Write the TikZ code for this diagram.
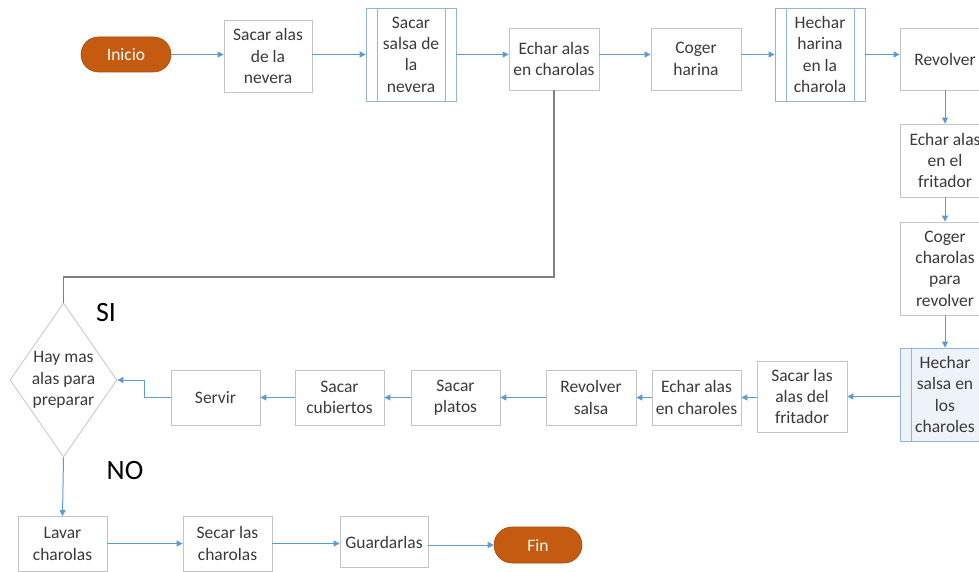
\documentclass[tikz,border=0pt]{standalone}
\usepackage{fontspec}
\setmainfont{Carlito}
\usetikzlibrary{arrows.meta,shapes.geometric}
\definecolor{flowblue}{HTML}{5B9BD5}
\definecolor{boxgray}{HTML}{C4C4C4}
\definecolor{procblue}{HTML}{95B3D7}
\definecolor{termorange}{HTML}{C55A11}
\definecolor{termedge}{HTML}{A34A0D}
\definecolor{txt}{HTML}{3A3A3A}
\definecolor{paleblue}{HTML}{EEF3FA}
\definecolor{loopgray}{HTML}{7F7F7F}
\begin{document}
\begin{tikzpicture}[x=1pt,y=-1pt,
  every node/.style={font=\fontsize{17.5}{21.3}\selectfont, text=txt, align=center},
  stepbox/.style={draw=boxgray, line width=0.8pt, fill=white, minimum width=89pt, inner sep=1pt},
  procbox/.style={draw=procblue, line width=0.8pt, fill=white, minimum width=90pt, minimum height=93pt, inner sep=1pt,
    path picture={\draw[procblue, line width=0.8pt]
      ([xshift=11pt]path picture bounding box.north west) -- ([xshift=11pt]path picture bounding box.south west)
      ([xshift=-11pt]path picture bounding box.north east) -- ([xshift=-11pt]path picture bounding box.south east);}},
  term/.style={draw=termedge, line width=0.6pt, fill=termorange, rounded corners=17.5pt, minimum width=90pt, minimum height=35pt, text=white},
  flow/.style={flowblue, line width=1pt, -{Triangle[length=6pt,width=6pt]}},
  loopline/.style={loopgray, line width=1.5pt},
  bigtext/.style={font=\fontsize{28}{28}\selectfont, text=black}
]
\useasboundingbox (0,0) rectangle (979,572);

% top row
\node[term] (ini) at (126,54.5) {Inicio};
\node[stepbox, minimum height=72pt, minimum width=88pt] (n1) at (268,56) {Sacar alas\\de la\\nevera};
\node[procbox] (n2) at (411,54.5) {Sacar\\salsa de\\la\\nevera};
\node[stepbox, minimum height=62pt, minimum width=90pt] (n3) at (554,59) {Echar alas\\en charolas};
\node[stepbox, minimum height=62pt, minimum width=90pt] (n4) at (696,59) {Coger\\harina};
\node[procbox] (n5) at (820,54.5) {Hechar\\harina\\en la\\charola};
\node[stepbox, minimum height=62pt, minimum width=90pt] (n6) at (945,59) {Revolver};

% right column
\node[stepbox, minimum height=73pt, minimum width=90pt] (n7) at (945,160.5) {Echar alas\\en el\\fritador};
\node[stepbox, minimum height=93pt, minimum width=90pt] (n8) at (945,268.5) {Coger\\charolas\\para\\revolver};
\node[procbox, fill=paleblue] (n9) at (945,394.5) {Hechar\\salsa en\\los\\charoles};

% middle row (right to left)
\node[stepbox, minimum height=71pt, minimum width=90pt] (n10) at (802,396.5) {Sacar las\\alas del\\fritador};
\node[stepbox, minimum height=55pt] (n11) at (696.5,397.5) {Echar alas\\en charoles};
\node[stepbox, minimum height=55pt, minimum width=90pt] (n12) at (591,397.5) {Revolver\\salsa};
\node[stepbox, minimum height=55pt] (n13) at (455.5,397.5) {Sacar\\platos};
\node[stepbox, minimum height=55pt] (n14) at (339.5,397.5) {Sacar\\cubiertos};
\node[stepbox, minimum height=55pt] (srv) at (215.5,397.5) {Servir};

% decision
\node[diamond, draw=boxgray!80!black!60, line width=0.8pt, minimum width=107pt, minimum height=154pt, inner sep=0pt] (dec) at (63.5,380) {};
\node (decT) at (63.5,380) {Hay mas\\alas para\\preparar};
\node[bigtext] (si) at (106,313) {SI};
\node[bigtext] (no) at (125,471) {NO};
\coordinate (siTurn) at (63.5,277);

% bottom row
\node[stepbox, minimum height=55pt] (lav) at (62.5,544) {Lavar\\charolas};
\node[stepbox, minimum height=55pt] (sec) at (227.5,543.5) {Secar las\\charolas};
\node[stepbox, minimum height=51pt, minimum width=88pt] (grd) at (384,542) {Guardarlas};
\node[term, minimum width=88pt, minimum height=36pt, rounded corners=18pt] (fin) at (538,545) {Fin};

% connectors
\draw[flow] (ini.east) -- (ini.east -| n1.west);
\draw[flow] (n1.east |- ini.east) -- (n2.west |- ini.east);
\draw[flow] (n2.east |- ini.east) -- (n3.west |- ini.east);
\draw[flow] (n3.east |- ini.east) -- (n4.west |- ini.east);
\draw[flow] (n4.east |- ini.east) -- (n5.west |- ini.east);
\draw[flow] (n5.east |- ini.east) -- (n6.west |- ini.east);
\draw[flow] (n6.south) -- (n7.north);
\draw[flow] (n7.south) -- (n8.north);
\draw[flow] (n8.south) -- (n9.north);
\draw[flow] (n9.west |- n10.east) -- (n10.east);
\draw[flow] (n10.west |- n11.east) -- (n11.east);
\draw[flow] (n11.west) -- (n12.east);
\draw[flow] (n12.west) -- (n13.east);
\draw[flow] (n13.west) -- (n14.east);
\draw[flow] (n14.west) -- (srv.east);
\draw[flow] (srv.west) -- ++(-26,0) |- (dec.east);
\draw[loopline] (n3.south) |- (siTurn) -- (dec.north);
\draw[flow] (dec.south) -- (lav.north);
\draw[flow] (lav.east |- sec.west) -- (sec.west);
\draw[flow] (sec.east) -- (grd.west |- sec.east);
\draw[flow] (grd.east |- fin.west) -- (fin.west);
\end{tikzpicture}
\end{document}
